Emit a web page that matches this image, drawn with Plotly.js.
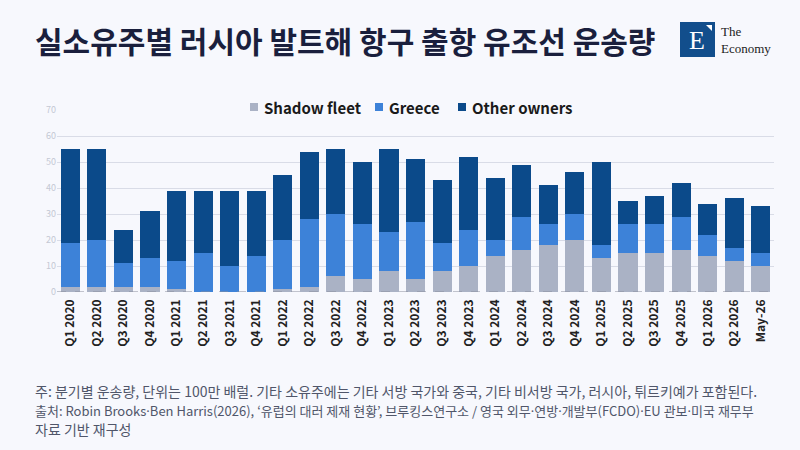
<!DOCTYPE html>
<html>
<head>
<meta charset="utf-8">
<script src="https://cdn.plot.ly/plotly-3.0.1.min.js"></script>
<style>
html,body{margin:0;padding:0;background:#f7f8fd;}
#chart{width:800px;height:450px;}
</style>
</head>
<body>
<div id="chart"></div>
<script>
const categories = ["Q1 2020","Q2 2020","Q3 2020","Q4 2020","Q1 2021","Q2 2021","Q3 2021","Q4 2021","Q1 2022","Q2 2022","Q3 2022","Q4 2022","Q1 2023","Q2 2023","Q3 2023","Q4 2023","Q1 2024","Q2 2024","Q3 2024","Q4 2024","Q1 2025","Q2 2025","Q3 2025","Q4 2025","Q1 2026","Q2 2026","May-26"];
const shadowFleet = [2,2,2,2,1,0,0,0,1,2,6,5,8,5,8,10,14,16,18,20,13,15,15,16,14,12,10];
const greece = [17,18,9,11,11,15,10,14,19,26,24,21,15,22,11,14,6,13,8,10,5,11,11,13,8,5,5];
const otherOwners = [36,35,13,18,27,24,29,25,25,26,25,24,32,24,24,28,24,20,15,16,32,9,11,13,12,19,18];
const seriesNames = ["Shadow fleet","Greece","Other owners"];
const seriesColors = ["#aab2c5","#3d82d8","#0b4a8a"];

const FONT = "Noto Sans CJK KR, Noto Sans, sans-serif";
const L = 57, W = 717, B = 292, H = 182;
const px = x => (x - L) / W;
const py = y => (B - y) / H;

const traces = [shadowFleet, greece, otherOwners].map((vals, i) => ({
  type:"bar", x:categories, y:vals, name:seriesNames[i],
  marker:{color:seriesColors[i], line:{width:0}},
  hoverinfo:"skip"
}));

// custom legend (square + label)
const legendX = [250, 375, 458];
const legendShapes = legendX.map((x, i) => ({
  type:"rect", xref:"paper", yref:"paper", x0:px(x), x1:px(x + 8), y0:py(111), y1:py(103),
  fillcolor:seriesColors[i], line:{width:0}, layer:"above"
}));
const legendAnns = legendX.map((x, i) => ({
  text:seriesNames[i], xref:"paper", yref:"paper", x:px(x + 12), xanchor:"left",
  y:py(107), yanchor:"middle", showarrow:false,
  font:{family:FONT, size:15, color:"#1a1a1a", weight:"bold"}, bgcolor:"#f7f8fd"
}));

const noteFont = {family:FONT, size:14, color:"#50566a"};
const dot = s => s.replace(/·/g, '<span style="font-family:Noto Sans">·</span>');

const layout = {
  width:800, height:450,
  paper_bgcolor:"#f7f8fd", plot_bgcolor:"#f7f8fd",
  margin:{l:L, r:800 - L - W, t:110, b:158},
  barmode:"stack", bargap:0.28,
  font:{family:FONT},
  showlegend:false,
  xaxis:{type:"category", tickangle:-90, showgrid:false, zeroline:false, showline:false,
    ticks:"", ticklabelstandoff:4, tickfont:{family:FONT, size:12, color:"#222", weight:"bold"},
    range:[-0.5, 26.5], fixedrange:true},
  yaxis:{range:[0,70], dtick:10, showgrid:true, gridcolor:"#d9dce7", gridwidth:1,
    zeroline:false, showline:false, ticks:"", ticklen:0,
    tickfont:{family:FONT, size:9, color:"#c4c8d4"}, fixedrange:true},
  shapes:[
    {type:"line", xref:"paper", yref:"y", x0:0, x1:1, y0:0, y1:0,
     line:{color:"#8a8f9c", width:1, dash:"dash"}},
    {type:"rect", xref:"paper", yref:"paper", x0:px(680), x1:px(715),
     y0:py(57), y1:py(22), fillcolor:"#124e8c", line:{width:0}, layer:"above"},
    {type:"path", xref:"paper", yref:"paper",
     path:"M " + px(706) + "," + py(25) + " L " + px(712) + "," + py(25) + " L " + px(712) + "," + py(31) + " Z",
     fillcolor:"#ffffff", line:{width:0}}
  ].concat(legendShapes),
  annotations:[
    {text:"실소유주별 러시아 발트해 항구 출항 유조선 운송량", xref:"paper", yref:"paper",
     x:px(33), xanchor:"left", y:py(40), yanchor:"middle", showarrow:false,
     font:{family:FONT, size:30, color:"#1a1f3d", weight:"bold"}},
    {text:"E", xref:"paper", yref:"paper", x:px(697), xanchor:"center",
     y:py(40), yanchor:"middle", showarrow:false,
     font:{family:"Liberation Serif, DejaVu Serif, serif", size:26, color:"#ffffff"}},
    {text:"The<br>Economy", xref:"paper", yref:"paper", x:px(719), xanchor:"left",
     y:py(40), yanchor:"middle", showarrow:false, align:"left",
     font:{family:"Liberation Serif, DejaVu Serif, serif", size:13, color:"#222"}},
    {text:"주: 분기별 운송량, 단위는 100만 배럴. 기타 소유주에는 기타 서방 국가와 중국, 기타 비서방 국가, 러시아, 튀르키예가 포함된다.",
     xref:"paper", yref:"paper", x:px(33), xanchor:"left", y:py(391), yanchor:"middle",
     showarrow:false, font:noteFont},
    {text:dot("출처: Robin Brooks·Ben Harris(2026), ‘유럽의 대러 제재 현황’, 브루킹스연구소 / 영국 외무·연방·개발부(FCDO)·EU 관보·미국 재무부"),
     xref:"paper", yref:"paper", x:px(33), xanchor:"left", y:py(410), yanchor:"middle",
     showarrow:false, font:{family:FONT, size:13, color:"#50566a"}},
    {text:"자료 기반 재구성",
     xref:"paper", yref:"paper", x:px(33), xanchor:"left", y:py(429), yanchor:"middle",
     showarrow:false, font:noteFont}
  ].concat(legendAnns)
};

Plotly.newPlot("chart", traces, layout, {staticPlot:true, displayModeBar:false});
</script>
</body>
</html>
